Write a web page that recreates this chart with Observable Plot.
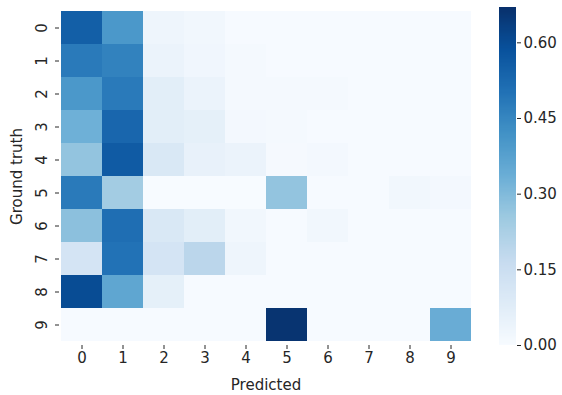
<!DOCTYPE html>
<html><head><meta charset="utf-8">
<script src="https://cdn.jsdelivr.net/npm/d3@7"></script>
<script src="https://cdn.jsdelivr.net/npm/@observablehq/plot@0.6"></script>
<style>
body{margin:0;background:#fff;}
#wrap{display:flex;flex-direction:row;align-items:flex-start;}
svg{font-family:"DejaVu Sans",sans-serif;}
</style></head>
<body><div id="wrap"></div>
<script>
const truthLabels = ["0","1","2","3","4","5","6","7","8","9"];
const predLabels = ["0","1","2","3","4","5","6","7","8","9"];
const matrix = [
  [0.55,0.40,0.03,0.02,0.005,0.005,0.005,0.005,0.005,0.005],
  [0.48,0.46,0.04,0.025,0.01,0.005,0.005,0.005,0.005,0.005],
  [0.40,0.48,0.07,0.04,0.01,0.01,0.01,0.005,0.005,0.005],
  [0.33,0.53,0.07,0.06,0.015,0.01,0.005,0.005,0.005,0.005],
  [0.27,0.56,0.10,0.05,0.04,0.008,0.015,0.005,0.005,0.005],
  [0.48,0.24,0.0,0.0,0.0,0.27,0.005,0.005,0.02,0.015],
  [0.28,0.51,0.10,0.07,0.02,0.005,0.02,0.005,0.005,0.005],
  [0.12,0.50,0.12,0.19,0.03,0.005,0.005,0.005,0.005,0.005],
  [0.60,0.36,0.06,0.005,0.005,0.005,0.005,0.005,0.005,0.005],
  [0.005,0.005,0.005,0.005,0.005,0.66,0.005,0.005,0.005,0.34]
];
const colorMax = 0.67;
const cbTicks = [0, 0.15, 0.30, 0.45, 0.60];
const bluesStops = ["#f7fbff","#deebf7","#c6dbef","#9ecae1","#6baed6","#4292c6","#2171b5","#08519c","#08306b"];

const cells = [];
matrix.forEach((row, i) => row.forEach((v, j) => cells.push({truth: truthLabels[i], pred: predLabels[j], v})));

const color = {type: "linear", domain: bluesStops.map((_, i) => i * colorMax / (bluesStops.length - 1)), range: bluesStops, interpolate: "rgb"};

const heat = Plot.plot({
  width: 480, height: 395,
  marginLeft: 59, marginRight: 8, marginTop: 7, marginBottom: 50,
  style: {fontFamily: "DejaVu Sans, sans-serif", fontSize: "15px", color: "#262626"},
  x: {domain: predLabels, padding: 0},
  y: {domain: truthLabels, padding: 0},
  color,
  marks: [
    Plot.cell(cells, {x: "pred", y: "truth", fill: "v", inset: 0}),
    Plot.axisX({tickSize: 4, tickPadding: 3, label: "Predicted", labelAnchor: "center", labelArrow: "none", labelOffset: 44, fontSize: 15}),
    Plot.axisY({tickSize: 4, tickPadding: 9, tickRotate: -90, label: "Ground truth", labelAnchor: "center", labelArrow: "none", labelOffset: 48, fontSize: 15})
  ]
});

const n = 300;
const steps = d3.range(n).map(k => ({y1: k * colorMax / n, y2: Math.min(colorMax, (k + 1.6) * colorMax / n), v: (k + 0.5) * colorMax / n}));
const bar = Plot.plot({
  width: 82, height: 395,
  marginLeft: 19, marginRight: 46, marginTop: 7, marginBottom: 50,
  style: {fontFamily: "DejaVu Sans, sans-serif", fontSize: "15px", color: "#262626"},
  x: {axis: null, domain: [0, 1]},
  y: {domain: [0, colorMax]},
  color,
  marks: [
    Plot.rectY(steps, {x1: 0, x2: 1, y1: "y1", y2: "y2", fill: "v", shapeRendering: "crispEdges"}),
    Plot.axisY({anchor: "right", ticks: cbTicks, tickFormat: d3.format(".2f"), tickSize: 4, tickPadding: 3, label: null, fontSize: 15})
  ]
});

document.getElementById("wrap").append(heat, bar);
</script></body></html>
